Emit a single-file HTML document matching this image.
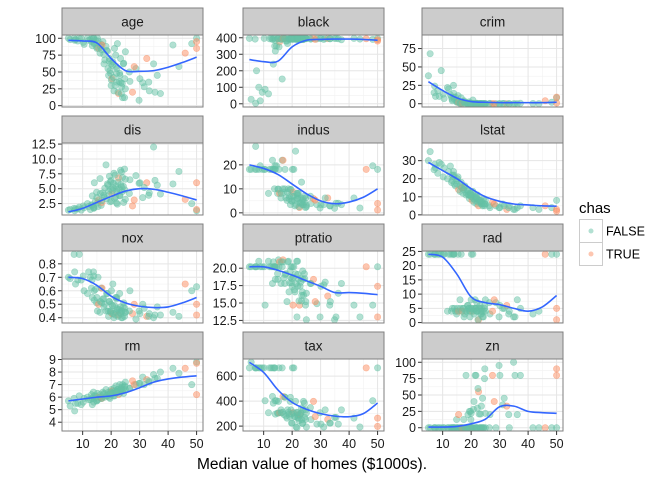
<!DOCTYPE html>
<html><head><meta charset="utf-8"><style>
body{margin:0;background:#fff;}
svg{display:block;font-family:"Liberation Sans",Arial,sans-serif;}
</style></head><body>
<svg id="chart" width="672" height="480"></svg>
<script>
const medv=[5,5.6,7,7.2,8.3,8.8,10.2,10.5,11.7,12.7,13.1,13.4,13.8,14.1,14.5,14.9,15.2,15.6,16.1,16.5,17.1,17.5,18.2,18.7,19.1,19.4,19.6,20,20.3,20.6,21,21.2,21.7,22,22.2,22.6,23,23.3,23.7,24,24.4,24.8,25,26.6,27.5,28.7,29.8,31.1,32.5,33.4,34.9,36.2,37.3,41.7,43.8,46,48.3,50,50,50];
const medv2=[13.3,14,15,15.4,16.2,16.8,17.4,17.8,18.4,18.9,19.3,19.8,20.1,20.5,20.8,21.4,21.6,22,22.4,22.8,23.1,23.6,23.9,24.3,24.7,25,26.4,28.1,30.1,31.6,33.2,35.4,13.9,12.1,9.5,7.5,16.7,19.9,23.4,21.9];
const chasTrue=[17,28,35,44,48,55,58,59,65,87];
const age=[100,98,100,97,96,100,94,91,100,98,95,89,100,93,97,87,100,85,78,91,95,62,88,81,45,70,52,30,40,65,22,85,58,35,92,18,48,70,28,12,63,40,80,36,20,55,8,34,70,22,62,45,18,90,58,78,92,100,95,85];
const age2=[100,92,85,96,88,90,76,68,82,55,66,48,38,60,42,30,75,55,20,36,45,18,33,62,12,25,50,58,40,28,35,20,100,97,100,98,83,62,34,48];
const black=[396,27,392,3,100,18,396,88,60,396,390,240,396,320,350,396,395,375,393,150,396,396,380,392,390,396,395,396,394,393,396,390,396,395,391,396,388,396,394,390,396,395,396,392,396,393,396,390,395,394,396,394,388,396,392,394,390,396,388,380];
const black2=[396,385,392,345,390,396,395,380,365,396,393,396,390,392,396,394,396,387,395,395,396,390,389,396,396,395,393,390,396,396,394,396,350,394,70,200,396,392,395,396];
const crim=[38,68,15,24,18,10,13,7,22,12,9,4,25,6,9,3,3,1.5,0.5,8,2,4,1,0.8,0.3,0.2,0.6,0.1,0.2,5,0.1,0.05,0.3,0.08,0.2,0.04,0.1,0.3,0.05,0.1,0.03,0.2,0.06,0.5,0.1,0.02,0.04,0.3,0.01,0.07,0.05,0.02,0.6,0.3,0.1,4,2,8,9,1];
const crim2=[6,9,2,11,1,0.6,3,0.4,1.2,0.2,2.5,0.1,0.3,0.5,0.15,0.06,0.4,0.7,0.05,0.1,0.08,0.2,0.04,0.3,0.06,0.1,0.02,0.04,0.1,0.3,0.02,0.05,14,20,45,10,0.9,0.3,0.1,0.2];
const dis=[1.4,1.5,1.7,1.3,1.6,1.9,2.1,1.8,2.5,1.5,2.3,3.8,1.9,6,2.9,4.4,2.6,3.1,6.7,2.2,4.3,3.6,9,5.8,4.6,7.1,2.8,6.4,4.1,5.2,7.6,3.4,5.5,4.9,2.4,6.8,3.9,8.1,5.3,6.9,2.7,4.8,3.2,6.5,2.1,7.2,5.9,3.5,6,4.3,12,5.6,4.1,5.8,7.9,3.2,2.5,1.3,1.5,6];
const dis2=[2.2,1.8,3.5,2.0,4.2,2.7,3.9,5.1,3.3,5.6,4.0,6.2,2.9,4.7,5.9,7.3,3.6,4.4,6.1,5.0,3.8,7.8,4.5,5.4,8.3,6.6,4.2,3.1,6.0,5.2,3.9,6.4,1.7,2.0,1.4,1.6,3.0,4.9,5.7,2.6];
const indus=[18.1,18.1,18.1,27.7,18.1,19.6,18.1,18.1,8.1,18.1,21.9,18.1,10,18.1,19.6,8.1,9.9,8.1,6.2,21.9,8.6,18.1,5.2,10,6.9,3.4,9.7,4.9,8.6,18.1,2.9,25.7,6.2,5.9,8.1,2.2,4,12.8,5.3,3.3,7,6.2,2.5,3.9,5.9,3.4,2,3.4,6.2,2.9,1.9,4,3.4,6.2,2,18.1,19.6,18.1,3.9,1.2];
const indus2=[18.1,19.6,9.9,18.1,8.1,21.9,10,6.2,8.6,5.9,9.7,4.9,18.1,6.9,5.2,3.4,8.1,7.4,2.5,4.1,6.2,3.4,5.9,4.4,2.2,3.2,6.9,5.3,3.4,6.2,2.9,4,18.1,18.1,18.1,18.1,10,6.9,4.5,8.1];
const lstat=[30,35,25,28,23,29,21,26,20,27,18,22,24,17,16,19,20,14,13,18,12,15,11,14,11,9,12,10,8,13,7,10,9,6,11,5,8,7,6,5,9,6,8,4,7,5,4,6,3,5,3,4,5,4,3,5,4,8,3,2];
const lstat2=[19,22,17,21,16,15,14,16,12,13,11,12,10,11,9,8,10,9,7,8,7,6,7,6,5,6,5,6,4,5,4,3,21,24,28,26,15,11,8,10];
const nox=[0.7,0.69,0.87,0.74,0.68,0.87,0.71,0.6,0.58,0.7,0.62,0.55,0.74,0.53,0.61,0.51,0.45,0.5,0.44,0.62,0.54,0.48,0.45,0.58,0.41,0.52,0.45,0.5,0.43,0.65,0.4,0.49,0.44,0.55,0.46,0.42,0.58,0.48,0.45,0.4,0.51,0.47,0.44,0.6,0.43,0.39,0.45,0.5,0.41,0.43,0.4,0.48,0.42,0.44,0.41,0.65,0.6,0.63,0.5,0.42];
const nox2=[0.68,0.6,0.55,0.7,0.52,0.62,0.54,0.5,0.58,0.45,0.52,0.44,0.6,0.49,0.43,0.42,0.55,0.47,0.41,0.46,0.44,0.4,0.45,0.48,0.41,0.44,0.45,0.5,0.43,0.47,0.41,0.42,0.71,0.74,0.68,0.65,0.51,0.45,0.43,0.54];
const ptratio=[20.2,20.2,20.2,20.2,21,20.2,20.2,14.7,21,20.2,17.8,20.9,20.2,18.4,20.2,19.2,21.2,20.9,17.8,20.2,18.6,19.1,15.2,21,17.9,18.7,20.2,17.4,14.7,20.2,16.6,19.2,13,17.4,18.4,14.7,18,15.3,19.6,16.1,18.5,15.2,12.6,17.8,18.4,14.9,13,17.6,16,15.2,12.6,16.4,17.8,14.7,13,20.2,14.7,20.2,17.4,13];
const ptratio2=[20.2,20.2,18.4,20.2,20.9,21.2,17.8,19.2,20.9,16.6,19.6,17.9,20.2,18.7,16.9,17.8,21,19.1,15.3,17.4,18.6,16.6,18.4,19.2,14.7,16.4,17.8,15.2,17.4,18,14.7,13,20.2,20.2,20.2,20.2,20.9,18.5,16.1,21];
const rad=[24,24,24,24,24,24,24,24,4,24,4,5,24,5,4,3,5,4,8,24,5,2,4,6,5,4,2,8,4,24,3,5,5,7,4,1,5,3,5,2,4,6,8,3,4,7,2,5,6,4,2,8,5,3,4,24,24,24,5,1];
const rad2=[24,24,4,24,5,4,5,3,4,6,5,4,24,5,4,8,5,4,1,5,6,3,4,2,5,4,7,8,6,5,3,2,24,24,24,24,4,5,4,4];
const rm=[5.7,5.3,5.9,4.9,5.5,6.1,5.6,5.9,6,5.8,6.2,5.4,6.4,5.9,6.1,5.7,6.3,6.0,6.2,5.9,6.4,6.3,6.6,6.1,6.4,6.2,5.9,6.6,6.5,6.3,6.7,6.1,6.9,6.4,6.6,6.2,7,6.5,6.8,7,6.3,6.9,7.2,6.7,7.3,7,7.1,7.6,7.4,7.2,7.8,7.5,8,8.3,7.9,8.3,7,8.8,6.2,8.7];
const rm2=[5.9,6.1,5.7,5.8,6.0,5.9,6.2,6.0,6.1,6.2,6.0,6.4,6.2,6.3,6.1,6.5,6.3,6.4,6.6,6.5,6.3,6.7,6.5,6.6,6.8,6.6,6.7,7.0,7.1,7.0,7.3,7.5,5.6,5.8,5.4,5.5,5.9,6.3,6.6,6.4];
const tax=[666,711,666,666,666,666,666,403,307,666,437,384,666,296,403,304,398,307,330,666,293,432,264,311,277,430,330,224,307,666,276,398,188,287,264,296,305,345,222,398,270,330,193,252,398,216,307,193,254,224,270,216,330,264,193,666,403,666,264,198];
const tax2=[666,403,304,666,307,437,432,281,330,296,398,224,666,307,277,193,311,264,244,287,300,222,330,384,254,305,348,276,216,330,224,270,666,666,666,666,311,296,252,307];
const zn=[0,0,0,0,0,0,0,0,0,0,0,0,0,0,0,12.5,0,20,0,0,0,0,80,0,0,25,0,22,0,0,40,0,80,0,30,55,0,21,0,45,0,90,0,20,80,0,95,35,33,0,100,20,80,0,0,0,0,0,90,80];
const zn2=[0,0,0,0,0,0,12.5,0,0,20,0,25,0,0,28,80,0,0,60,21,0,33,0,0,75,22,0,40,80,45,20,80,0,0,0,0,0,12.5,0,0];
const smoothX=[5,10,15,20,25,30,35,40,45,50];
const smAge=[97,96,93,70,52,51,52,57,64,72];
const smBlack=[268,255,258,345,385,390,392,392,390,385];
const smCrim=[30,18,8,3,2,1.5,1.5,1.5,1.5,2];
const smDis=[1.1,1.7,2.7,3.7,4.6,5,4.9,4.4,3.8,3.1];
const smIndus=[20,18.5,16,12,8,5,3.8,4.5,6.5,10];
const smLstat=[29,24.5,20,14.5,10,7.5,6,5.5,5,4.8];
const smNox=[0.70,0.69,0.64,0.56,0.51,0.485,0.475,0.48,0.51,0.55];
const smPtratio=[20.2,20.2,19.7,19,18.2,17.4,16.5,16.5,16.4,16.2];
const smRad=[24,23,17,9,7,6.3,5,4,5.5,9.5];
const smRm=[5.7,5.85,6.0,6.1,6.35,6.75,7.2,7.45,7.6,7.7];
const smTax=[710,630,490,390,335,300,280,275,300,385];
const smZn=[1,1,2,6,13,32,33,25,23,22];
const xTicks=[10,20,30,40,50];

const medvAll=medv.concat(medv2);
const panels=[
 {n:'age',y:age.concat(age2),s:smAge,r:[2.9,100],t:[0,25,50,75,100],f:0},
 {n:'black',y:black.concat(black2),s:smBlack,r:[0.32,396.9],t:[0,100,200,300,400],f:0},
 {n:'crim',y:crim.concat(crim2),s:smCrim,r:[0.006,88.98],t:[0,25,50,75],f:0},
 {n:'dis',y:dis.concat(dis2),s:smDis,r:[1.13,12.13],t:[2.5,5,7.5,10,12.5],f:1},
 {n:'indus',y:indus.concat(indus2),s:smIndus,r:[0.46,27.74],t:[0,10,20],f:0},
 {n:'lstat',y:lstat.concat(lstat2),s:smLstat,r:[1.73,37.97],t:[0,10,20,30],f:0},
 {n:'nox',y:nox.concat(nox2),s:smNox,r:[0.385,0.871],t:[0.4,0.5,0.6,0.7,0.8],f:1},
 {n:'ptratio',y:ptratio.concat(ptratio2),s:smPtratio,r:[12.6,22],t:[12.5,15,17.5,20],f:1},
 {n:'rad',y:rad.concat(rad2),s:smRad,r:[1,24],t:[0,5,10,15,20,25],f:0},
 {n:'rm',y:rm.concat(rm2),s:smRm,r:[3.56,8.78],t:[4,5,6,7,8,9],f:0},
 {n:'tax',y:tax.concat(tax2),s:smTax,r:[187,711],t:[200,400,600],f:0},
 {n:'zn',y:zn.concat(zn2),s:smZn,r:[0,100],t:[0,25,50,75,100],f:0}
];
const NS='http://www.w3.org/2000/svg';
const svg=document.getElementById('chart');
function mk(tag,attrs,parent){const e=document.createElementNS(NS,tag);for(const k in attrs)e.setAttribute(k,attrs[k]);(parent||svg).appendChild(e);return e;}
const lefts=[62,243,422],tops=[35,143,251,359],W=141,H=72,SH=27;
const xd=[2.75,52.25];
panels.forEach((p,i)=>{
 const L=lefts[i%3],T=tops[Math.floor(i/3)];
 const g=mk('g',{});
 
 
 const ext=(p.r[1]-p.r[0])*0.05,y0=p.r[0]-ext,y1=p.r[1]+ext;
 const sx=v=>L+(v-xd[0])/(xd[1]-xd[0])*W;
 const sy=v=>T+H-(v-y0)/(y1-y0)*H;
 mk('rect',{x:L,y:T,width:W,height:H,fill:'#fff'},g);
 [5,15,25,35,45].forEach(v=>{const x=sx(v);mk('line',{x1:x,x2:x,y1:T,y2:T+H,stroke:'#f2f2f2','stroke-width':0.6},g);});
 for(let k=0;k<p.t.length-1;k++){const m=(p.t[k]+p.t[k+1])/2;const y=sy(m);if(y>T&&y<T+H)mk('line',{x1:L,x2:L+W,y1:y,y2:y,stroke:'#f2f2f2','stroke-width':0.6},g);}
 xTicks.forEach(v=>{const x=sx(v);mk('line',{x1:x,x2:x,y1:T,y2:T+H,stroke:'#e5e5e5','stroke-width':1},g);});
 p.t.forEach(v=>{const y=sy(v);mk('line',{x1:L,x2:L+W,y1:y,y2:y,stroke:'#e5e5e5','stroke-width':1},g);
   mk('line',{x1:L-4,x2:L,y1:y,y2:y,stroke:'#333','stroke-width':1},g);
   const tx=mk('text',{x:L-6,y:y+4.5,'text-anchor':'end','font-size':12.5,fill:'#1a1a1a'},g);tx.textContent=p.f?v.toFixed(1):String(v);
   
   });
 medvAll.forEach((m,j)=>{const t=chasTrue.includes(j);
   const c=mk('circle',{cx:sx(m),cy:sy(p.y[j]),r:3.2,fill:t?'#fc8d62':'#66c2a5','fill-opacity':0.5,stroke:t?'#fc8d62':'#66c2a5','stroke-opacity':0.5,'stroke-width':0.6},g);
   
   });
 const pts=smoothX.map((x,k)=>[sx(x),sy(p.s[k])]);
 let d='M'+pts[0][0]+','+pts[0][1];
 for(let k=0;k<pts.length-1;k++){const p0=pts[k-1]||pts[k],p1=pts[k],p2=pts[k+1],p3=pts[k+2]||p2;
   d+=' C'+(p1[0]+(p2[0]-p0[0])/6)+','+(p1[1]+(p2[1]-p0[1])/6)+' '+(p2[0]-(p3[0]-p1[0])/6)+','+(p2[1]-(p3[1]-p1[1])/6)+' '+p2[0]+','+p2[1];}
 const ln=mk('path',{d:d,fill:'none',stroke:'#3366ff','stroke-width':1.6},g);
 
 
 mk('rect',{x:L,y:T,width:W,height:H,fill:'none',stroke:'#7f7f7f','stroke-width':1},g);
 const st=mk('rect',{x:L,y:T-SH,width:W,height:SH,fill:'#cccccc',stroke:'#7f7f7f','stroke-width':1},g);
 
 
 const stt=mk('text',{x:L+W/2,y:T-SH/2+5,'text-anchor':'middle','font-size':13.5,fill:'#1a1a1a'},g);stt.textContent=p.n;
 
 
 if(Math.floor(i/3)===3){xTicks.forEach(v=>{const x=sx(v);mk('line',{x1:x,x2:x,y1:T+H,y2:T+H+4,stroke:'#333'},g);
   const tx=mk('text',{x:x,y:T+H+17,'text-anchor':'middle','font-size':12.5,fill:'#1a1a1a'},g);tx.textContent=v;
   
   });}
});
</script>
<script>
(function(){
const NS='http://www.w3.org/2000/svg';const svg=document.getElementById('chart');
function mk(tag,a){const e=document.createElementNS(NS,tag);for(const k in a)e.setAttribute(k,a[k]);svg.appendChild(e);return e;}
const xt=mk('text',{x:312,y:469,'text-anchor':'middle','font-size':15.5,fill:'#000'});xt.textContent='Median value of homes ($1000s).';


const lt=mk('text',{x:579,y:213,'font-size':15,fill:'#000'});lt.textContent='chas';


[['FALSE','#66c2a5',219.5],['TRUE','#fc8d62',242.5]].forEach(([lab,c,y])=>{
 const g=document.createElementNS(NS,'g');svg.appendChild(g);
 
 
 const r=document.createElementNS(NS,'rect');for(const [k,v] of Object.entries({x:579.5,y:y,width:23,height:23,fill:'#fff',stroke:'#cccccc'}))r.setAttribute(k,v);g.appendChild(r);
 const ci=document.createElementNS(NS,'circle');for(const [k,v] of Object.entries({cx:591,cy:y+11.5,r:2.5,fill:c,'fill-opacity':0.5}))ci.setAttribute(k,v);g.appendChild(ci);
 const t=document.createElementNS(NS,'text');for(const [k,v] of Object.entries({x:606,y:y+16,'font-size':12.5,fill:'#000'}))t.setAttribute(k,v);t.textContent=lab;g.appendChild(t);
});
})();
</script>
</body></html>
